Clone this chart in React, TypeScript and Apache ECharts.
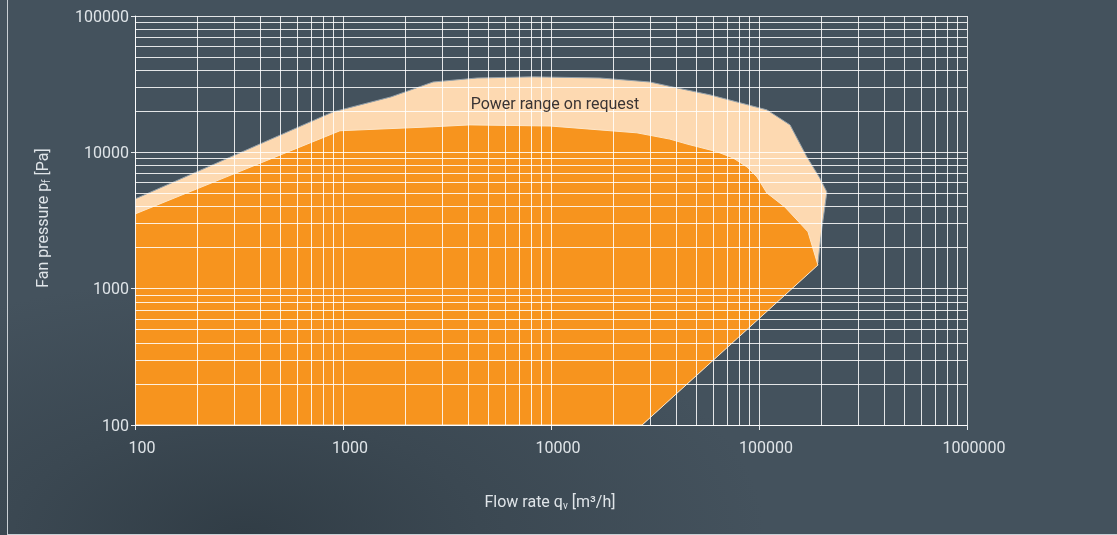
import React, { useEffect, useRef } from "react";
import * as echarts from "echarts";

// Axis decades
const xTicks = [100, 1000, 10000, 100000, 1000000];
const yTicks = [100, 1000, 10000, 100000];
const gridMultipliers = [1, 2, 3, 4, 5, 6, 7, 8, 9];

// Outer field: "Power range on request"  [flow rate m³/h, fan pressure Pa]
const requestRange: [number, number][] = [
  [100, 100], [100, 4550], [895, 19800], [1700, 25500], [2710, 32800],
  [4410, 35100], [8200, 35800], [17200, 35100], [29900, 32800],
  [40300, 29700], [58100, 26400], [109000, 20500], [141000, 15900],
  [170000, 9250], [196000, 6490], [212000, 5120], [201000, 2840],
  [192000, 1540], [27400, 100],
];

// Inner field: standard power range
const standardRange: [number, number][] = [
  [100, 100], [100, 3530], [967, 14400], [2710, 15400], [4080, 15900],
  [9900, 15600], [17200, 14600], [25900, 13900], [37300, 12500],
  [45100, 11500], [62800, 10100], [75000, 9100], [87600, 7810],
  [97800, 6600], [109000, 5040], [133000, 3980], [172000, 2610],
  [192000, 1490], [27400, 100],
];

const labelFont = "Roboto, 'DejaVu Sans', sans-serif";

function gridValues(ticks: number[], max: number) {
  const out: number[] = [];
  ticks.forEach((t) => gridMultipliers.forEach((m) => { if (t * m <= max) out.push(t * m); }));
  return out;
}

function polygonSeries(points: [number, number][], fill: string, stroke: string, z: number) {
  return {
    type: "custom",
    z,
    silent: true,
    clip: true,
    data: [points[0]],
    renderItem: (_params: any, api: any) => ({
      type: "polygon",
      shape: { points: points.map((p) => api.coord(p)) },
      style: { fill, stroke, lineWidth: 1 },
    }),
  };
}

export default function App() {
  const ref = useRef<HTMLDivElement>(null);
  useEffect(() => {
    if (!ref.current) return;
    const chart = echarts.init(ref.current, undefined, { renderer: "svg" });
    const xMax = xTicks[xTicks.length - 1];
    const yMax = yTicks[yTicks.length - 1];
    const lineColor = "rgba(255,255,255,0.85)";
    chart.setOption({
      animation: false,
      backgroundColor: "transparent",
      grid: { left: 135, top: 16, right: 150, bottom: 110, containLabel: false },
      xAxis: {
        type: "log",
        logBase: 10,
        min: 100,
        max: xMax,
        interval: 1,
        axisLine: { show: true, onZero: false, lineStyle: { color: "#e6eaee", width: 1 } },
        axisTick: { show: true, length: 5, lineStyle: { color: "#e6eaee" } },
        splitLine: { show: false },
        axisLabel: {
          color: "#dfe4e8",
          fontSize: 16,
          fontFamily: labelFont,
          margin: 14,
          padding: [0, 0, 0, 14],
          formatter: (v: number) => String(Math.round(v)),
        },
      },
      yAxis: {
        type: "log",
        logBase: 10,
        min: 100,
        max: yMax,
        interval: 1,
        axisLine: { show: true, onZero: false, lineStyle: { color: "#e6eaee", width: 1 } },
        axisTick: { show: true, length: 4, lineStyle: { color: "#e6eaee" } },
        splitLine: { show: false },
        axisLabel: {
          color: "#dfe4e8",
          fontSize: 16,
          fontFamily: labelFont,
          margin: 6,
          formatter: (v: number) => String(Math.round(v)),
        },
      },
      series: [
        polygonSeries(requestRange, "#fdd9b1", "#93a1ab", 1),
        polygonSeries(standardRange, "#f7941e", "#fde6c8", 2),
        {
          type: "line",
          z: 3,
          silent: true,
          data: [[100, 100]],
          showSymbol: false,
          symbol: "none",
          lineStyle: { opacity: 0 },
          markLine: {
            silent: true,
            symbol: ["none", "none"],
            label: { show: false },
            animation: false,
            lineStyle: { color: lineColor, width: 1, type: "solid" },
            emphasis: { disabled: true },
            data: [
              ...gridValues(xTicks, xMax).map((v) => ({ xAxis: v })),
              ...gridValues(yTicks, yMax).map((v) => ({ yAxis: v })),
            ],
          },
        },
      ],
      graphic: [
        {
          type: "text",
          z: 100,
          x: 555,
          y: 103,
          style: {
            text: "Power range on request",
            fill: "#3a3434",
            fontSize: 16,
            fontFamily: labelFont,
            align: "center",
            verticalAlign: "middle",
          },
        },
        {
          type: "text",
          z: 100,
          x: 42,
          y: 218,
          rotation: Math.PI / 2,
          style: {
            text: "Fan pressure p{sub|f} [Pa]",
            fill: "#dfe4e8",
            fontSize: 16,
            fontFamily: labelFont,
            align: "center",
            verticalAlign: "middle",
            rich: {
              sub: { fontSize: 10, fontFamily: labelFont, fill: "#dfe4e8", padding: [9, 0, 0, 0] },
            },
          },
        },
        {
          type: "text",
          z: 100,
          x: 550,
          y: 501,
          style: {
            text: "Flow rate q{sub|v} [m³/h]",
            fill: "#dfe4e8",
            fontSize: 16,
            fontFamily: labelFont,
            align: "center",
            verticalAlign: "middle",
            rich: {
              sub: { fontSize: 10, fontFamily: labelFont, fill: "#dfe4e8", padding: [9, 0, 0, 0] },
            },
          },
        },
      ],
    });
    return () => chart.dispose();
  }, []);

  return (
    <div
      style={{
        position: "fixed",
        left: 0,
        top: 0,
        width: 1117,
        height: 535,
        background:
          "radial-gradient(ellipse 520px 260px at 22% 100%, #313d46 0%, #3b4852 45%, #44525d 100%)",
        overflow: "hidden",
      }}
    >
      <div
        style={{
          position: "absolute",
          left: 7,
          top: 0,
          width: 1110,
          height: 534,
          borderLeft: "1px solid #c9cfd4",
          borderBottom: "1px solid #c9cfd4",
        }}
      />
      <div ref={ref} style={{ position: "absolute", left: 0, top: 0, width: 1117, height: 535 }} />
    </div>
  );
}
